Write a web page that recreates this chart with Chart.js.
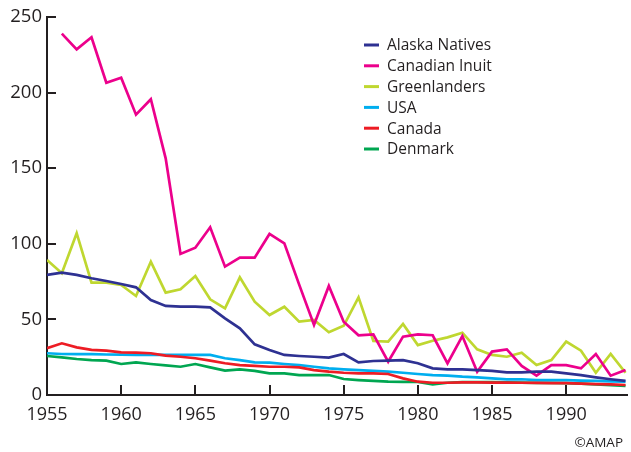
<!DOCTYPE html>
<html><head><meta charset="utf-8">
<script src="https://cdn.jsdelivr.net/npm/chart.js@4/dist/chart.umd.min.js"></script>
<style>html,body{margin:0;padding:0;background:#fff}#wrap{position:relative;width:631px;height:452px}</style>
</head><body><div id="wrap"><canvas id="c" width="631" height="452"></canvas></div>
<script>
const years = [];
for (let y = 1955; y <= 1994; y++) years.push(y);
const yTicks = [0, 50, 100, 150, 200, 250];
const xTicks = [1955, 1960, 1965, 1970, 1975, 1980, 1985, 1990];

const alaskaNatives = [79.4,80.9,79.4,77.2,75.4,73.4,71.2,62.8,58.9,58.4,58.4,58,50.7,44.1,33.5,29.8,26.5,25.8,25.3,24.7,27.1,21.6,22.5,22.7,23.1,21,17.6,17,17,16.5,15.9,15,15,15.4,15.4,14.3,13.2,11.7,10.4,9.3];
const canadianInuit = [null,239,228.6,236.6,206.5,209.9,185.4,195.6,156.5,93.3,97.4,110.9,84.9,90.8,90.8,106.5,100.3,73,46.3,72.1,48.5,39.5,40.1,22,38.6,40.1,39.5,20.9,39,15.4,28.7,30.2,19.2,12.8,19.8,19.8,17.6,27.1,12.8,16.5];
const greenlanders = [89.3,80.5,107,74.3,74.3,72.8,65.5,88.2,67.7,69.9,78.7,63.3,57.3,77.8,61.7,52.9,58.4,48.5,49.6,41.5,45.8,64.6,35.7,35.3,47,33,35.9,38.1,41.2,30.2,26.5,25.3,28,19.8,23.1,35.3,29.3,14.7,27.1,14.7];
const usa = [27.6,27.1,27,27,26.8,26.7,26.6,26.6,26.5,26.5,26.5,26.5,24.3,23.1,21.6,21.4,20.5,19.8,18.7,17.6,17,16.5,15.9,15.4,14.7,13.9,13.2,12.8,12.1,11.7,11,10.4,10.4,9.9,9.9,9.9,9.5,9.3,9,8.8];
const canada = [30.9,34.2,31.5,29.8,29.3,28.2,28,27.6,26,25.3,24.3,22.7,21,19.8,19.2,18.7,18.7,18.3,16.5,15.4,14.7,14.3,14.3,13.9,11,8.8,8.1,8.1,8.3,8.3,8.2,8.2,8.1,8,7.9,7.8,7.5,7.2,7,6.6];
const denmark = [25.8,24.9,23.8,23.1,22.7,20.5,21.6,20.5,19.6,18.7,20.5,18.3,16.1,17,15.9,14.3,14.3,13.2,13.2,13.2,10.6,9.9,9.4,8.8,8.7,8.6,7.1,8.1,8.5,8.5,8.5,8.3,8.2,8,8,7.8,7.5,7,6.5,6];

const seriesNames = ["Alaska Natives","Canadian Inuit","Greenlanders","USA","Canada","Denmark"];
const seriesData = [alaskaNatives, canadianInuit, greenlanders, usa, canada, denmark];
const seriesColors = ["#2e3192","#ec008c","#bfd730","#00aeef","#ed1c24","#00a651"];
const drawOrder = [1,2,3,4,0,5];

const FONT = "'Open Sans', 'DejaVu Sans', sans-serif";
const AXIS = "#231f20";

const datasets = seriesNames.map((n, i) => ({
  label: n,
  data: years.map((yr, j) => ({x: yr, y: seriesData[i][j]})),
  borderColor: seriesColors[i],
  backgroundColor: seriesColors[i],
  borderWidth: 2.7,
  pointRadius: 0,
  tension: 0,
  spanGaps: false,
  borderJoinStyle: 'miter',
  order: drawOrder[i]
}));

const extras = {
  id: 'extras',
  afterDraw(chart) {
    const ctx = chart.ctx;
    const xs = chart.scales.x, ys = chart.scales.y;
    ctx.save();
    ctx.strokeStyle = AXIS;
    ctx.lineWidth = 2;
    const x0 = xs.getPixelForValue(1955);
    const y0 = ys.getPixelForValue(0);
    yTicks.forEach(v => {
      const p = Math.round(ys.getPixelForValue(v));
      ctx.beginPath(); ctx.moveTo(x0, p); ctx.lineTo(x0 + 9, p); ctx.stroke();
    });
    xTicks.forEach(v => {
      const p = Math.round(xs.getPixelForValue(v));
      ctx.beginPath(); ctx.moveTo(p, y0); ctx.lineTo(p, y0 - 10); ctx.stroke();
    });
    // legend
    ctx.font = "15.5px " + FONT;
    ctx.textBaseline = 'middle';
    seriesNames.forEach((n, i) => {
      const yy = 45 + i * 20.8;
      ctx.strokeStyle = seriesColors[i];
      ctx.lineWidth = 3;
      ctx.beginPath(); ctx.moveTo(364, yy); ctx.lineTo(379, yy); ctx.stroke();
      ctx.fillStyle = AXIS;
      ctx.fillText(n, 387, yy + 1);
    });
    ctx.font = "13.5px " + FONT;
    ctx.textAlign = 'right';
    ctx.fillStyle = AXIS;
    ctx.fillText("\u00A9AMAP", 623, 443);
    ctx.restore();
  }
};

new Chart(document.getElementById('c'), {
  type: 'line',
  data: { datasets },
  options: {
    responsive: false,
    animation: false,
    devicePixelRatio: 1,
    layout: { padding: { left: 0, right: 4, top: 17, bottom: 0 } },
    plugins: { legend: { display: false }, tooltip: { enabled: false } },
    scales: {
      x: {
        type: 'linear', min: 1955, max: 1994.1,
        afterBuildTicks(s) { s.ticks = xTicks.map(v => ({value: v})); },
        afterFit(s) { s.height = 57; s.paddingLeft = 0; s.paddingRight = 0; },
        grid: { display: false, drawTicks: false },
        border: { display: true, color: AXIS, width: 2 },
        ticks: { padding: 9, color: AXIS, font: { family: FONT, size: 18 }, maxRotation: 0, autoSkip: false, callback: v => String(v) }
      },
      y: {
        type: 'linear', min: 0, max: 250,
        afterBuildTicks(s) { s.ticks = yTicks.map(v => ({value: v})); },
        afterFit(s) { s.width = 47; s.paddingTop = 0; s.paddingBottom = 0; },
        grid: { display: false, drawTicks: false },
        border: { display: true, color: AXIS, width: 2 },
        ticks: { padding: 5, color: AXIS, font: { family: FONT, size: 18.5 }, callback: v => String(v) }
      }
    }
  },
  plugins: [extras]
});
</script></body></html>
